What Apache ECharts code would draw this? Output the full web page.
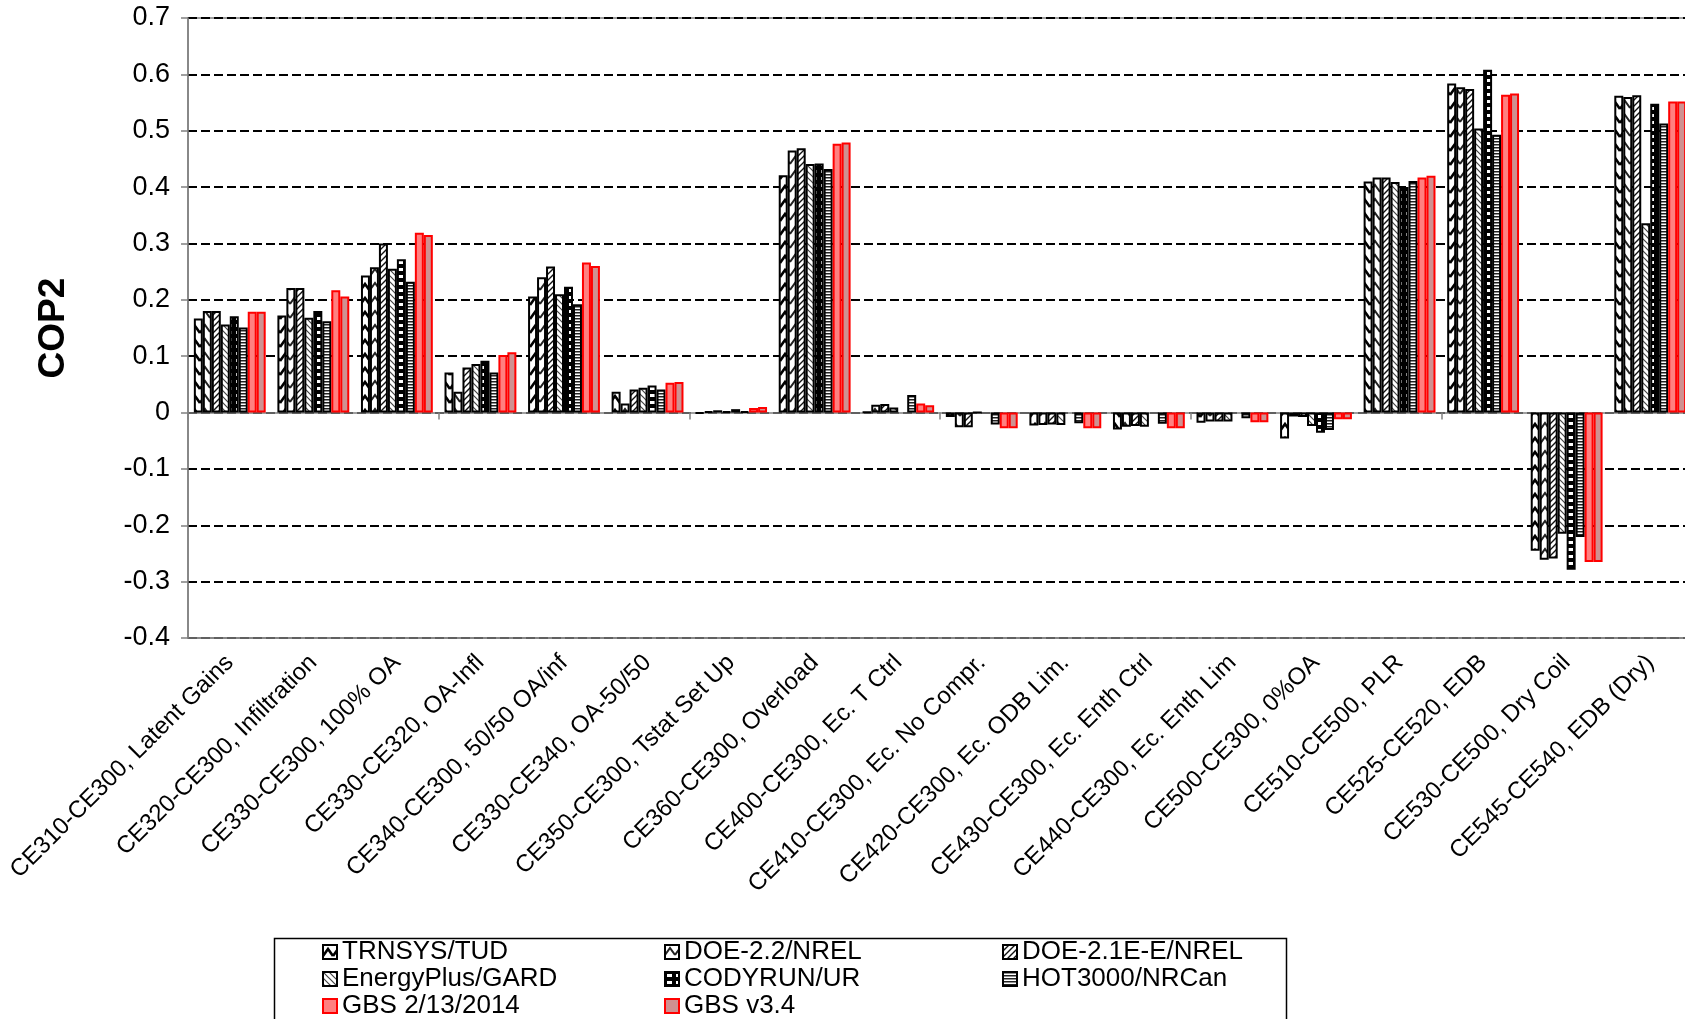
<!DOCTYPE html>
<html>
<head>
<meta charset="utf-8">
<script src="https://cdn.jsdelivr.net/npm/echarts@6/dist/echarts.min.js"></script>
<style>
  html, body { margin: 0; padding: 0; background: #fff; }
  #chart { width: 1685px; height: 1019px; }
</style>
</head>
<body>
<div id="chart"></div>
<script>
const categories = [
  "CE310-CE300, Latent Gains",
  "CE320-CE300, Infiltration",
  "CE330-CE300, 100% OA",
  "CE330-CE320, OA-Infl",
  "CE340-CE300, 50/50 OA/inf",
  "CE330-CE340, OA-50/50",
  "CE350-CE300, Tstat Set Up",
  "CE360-CE300, Overload",
  "CE400-CE300, Ec. T Ctrl",
  "CE410-CE300, Ec. No Compr.",
  "CE420-CE300, Ec. ODB Lim.",
  "CE430-CE300, Ec. Enth Ctrl",
  "CE440-CE300, Ec. Enth Lim",
  "CE500-CE300, 0%OA",
  "CE510-CE500, PLR",
  "CE525-CE520, EDB",
  "CE530-CE500, Dry Coil",
  "CE545-CE540, EDB (Dry)",
];

const seriesNames = [
  "TRNSYS/TUD",
  "DOE-2.2/NREL",
  "DOE-2.1E-E/NREL",
  "EnergyPlus/GARD",
  "CODYRUN/UR",
  "HOT3000/NRCan",
  "GBS 2/13/2014",
  "GBS v3.4",
];

const trnsys = [0.167, 0.172, 0.243, 0.071, 0.206, 0.037, -0.002, 0.421, 0.001, -0.008, -0.023, -0.030, -0.018, -0.046, 0.410, 0.584, -0.245, 0.562];
const doe22 = [0.180, 0.221, 0.258, 0.037, 0.240, 0.016, 0.002, 0.465, 0.014, -0.026, -0.022, -0.025, -0.016, -0.007, 0.417, 0.577, -0.261, 0.560];
const doe21e = [0.180, 0.221, 0.300, 0.080, 0.259, 0.041, 0.004, 0.469, 0.015, -0.026, -0.021, -0.024, -0.016, -0.008, 0.417, 0.574, -0.259, 0.563];
const energyPlus = [0.156, 0.168, 0.255, 0.086, 0.210, 0.044, 0.002, 0.441, 0.009, 0, -0.022, -0.025, -0.016, -0.024, 0.409, 0.504, -0.215, 0.336];
const codyrun = [0.171, 0.180, 0.272, 0.092, 0.223, 0.048, 0.006, 0.442, null, null, null, null, null, -0.036, 0.400, 0.608, -0.279, 0.548];
const hot3000 = [0.151, 0.162, 0.232, 0.071, 0.192, 0.041, 0.002, 0.432, 0.031, -0.021, -0.019, -0.020, -0.010, -0.031, 0.411, 0.493, -0.221, 0.513];
const gbs2014 = [0.179, 0.217, 0.319, 0.102, 0.266, 0.053, 0.008, 0.477, 0.016, -0.028, -0.028, -0.028, -0.017, -0.012, 0.417, 0.564, -0.265, 0.552];
const gbs34 = [0.179, 0.206, 0.315, 0.107, 0.260, 0.054, 0.010, 0.479, 0.013, -0.028, -0.028, -0.028, -0.017, -0.012, 0.420, 0.566, -0.265, 0.552];

const yTicks = { min: -0.4, max: 0.7, interval: 0.1 };

const FONT = "'Liberation Sans', Arial, sans-serif";

// small canvas tiles to imitate the excel hatch fills
function pattern(w, h, bg, draw) {
  const c = document.createElement("canvas");
  c.width = w;
  c.height = h;
  const ctx = c.getContext("2d");
  ctx.fillStyle = bg;
  ctx.fillRect(0, 0, w, h);
  draw(ctx);
  return { image: c, repeat: "repeat" };
}

const fills = [
  pattern(10, 14, "#fff", (ctx) => {
    ctx.strokeStyle = "#000";
    ctx.lineWidth = 2.6;
    ctx.beginPath();
    ctx.moveTo(0, 11);
    ctx.lineTo(5, 4);
    ctx.lineTo(10, 11);
    ctx.stroke();
  }),
  pattern(10, 14, "#fff", (ctx) => {
    ctx.strokeStyle = "#222";
    ctx.lineWidth = 2;
    ctx.beginPath();
    ctx.moveTo(0, 10);
    ctx.lineTo(5, 3);
    ctx.lineTo(10, 10);
    ctx.stroke();
  }),
  pattern(6, 6, "#fff", (ctx) => {
    ctx.strokeStyle = "#111";
    ctx.lineWidth = 1.4;
    ctx.beginPath();
    ctx.moveTo(0, 6);
    ctx.lineTo(6, 0);
    ctx.moveTo(-1, 1);
    ctx.lineTo(1, -1);
    ctx.moveTo(5, 7);
    ctx.lineTo(7, 5);
    ctx.stroke();
  }),
  pattern(6, 6, "#fff", (ctx) => {
    ctx.strokeStyle = "#444";
    ctx.lineWidth = 1.2;
    ctx.beginPath();
    ctx.moveTo(0, 0);
    ctx.lineTo(6, 6);
    ctx.moveTo(5, -1);
    ctx.lineTo(7, 1);
    ctx.moveTo(-1, 5);
    ctx.lineTo(1, 7);
    ctx.stroke();
  }),
  pattern(9, 7, "#000", (ctx) => {
    ctx.fillStyle = "#fff";
    ctx.fillRect(2, 2, 5, 3);
  }),
  pattern(4, 3, "#fff", (ctx) => {
    ctx.fillStyle = "#222";
    ctx.fillRect(0, 0, 4, 1.5);
  }),
  "#FF8080",
  "#CF9191",
];

const values = [trnsys, doe22, doe21e, energyPlus, codyrun, hot3000, gbs2014, gbs34];

const series = seriesNames.map((name, i) => ({
  name: name,
  type: "bar",
  xAxisIndex: 0,
  data: values[i],
  barGap: "0%",
  barCategoryGap: "14%",
  itemStyle: {
    color: fills[i],
    borderColor: i >= 6 ? "#FF0000" : "#000",
    borderWidth: 2,
  },
  emphasis: { disabled: true },
}));

// legend laid out as a 3-column grid, one small legend per entry
const legendCols = [322, 664, 1002];
const legendRows = [952, 979, 1006];
const legends = seriesNames.map((name, i) => ({
  left: legendCols[i % 3],
  top: legendRows[Math.floor(i / 3)] - 13,
  padding: 0,
  itemWidth: 14,
  itemHeight: 14,
  icon: "rect",
  selectedMode: false,
  data: [name],
  textStyle: { fontFamily: FONT, fontSize: 26, color: "#000", lineHeight: 26 },
}));

const chart = echarts.init(document.getElementById("chart"));

const option = {
  backgroundColor: "#fff",
  animation: false,
  textStyle: { fontFamily: FONT },
  grid: {
    left: 188,
    top: 18,
    width: 1504,
    height: 620,
    show: true,
    borderColor: "#808080",
    borderWidth: 1.5,
    outerBoundsMode: "none",
  },
  legend: legends,
  xAxis: [
    {
      type: "category",
      data: categories,
      position: "bottom",
      axisLine: { onZero: true, lineStyle: { color: "#808080", width: 1.5 } },
      axisTick: { show: true, length: 7, lineStyle: { color: "#808080", width: 1.5 } },
      axisLabel: { show: false },
      splitLine: { show: false },
    },
    {
      type: "category",
      data: categories,
      position: "bottom",
      axisLine: { onZero: false, show: true, lineStyle: { color: "#808080", width: 1.5 } },
      axisTick: { show: false },
      axisLabel: {
        interval: 0,
        rotate: 45,
        margin: 21,
        fontSize: 24,
        color: "#000",
        fontFamily: FONT,
      },
    },
  ],
  yAxis: {
    type: "value",
    min: yTicks.min,
    max: yTicks.max,
    interval: yTicks.interval,
    name: "COP2",
    nameLocation: "middle",
    nameGap: 116,
    nameTextStyle: { fontSize: 37, fontWeight: "bold", color: "#000", fontFamily: FONT },
    axisLine: { show: true, lineStyle: { color: "#808080", width: 1.5 } },
    axisTick: { show: true, length: 7, lineStyle: { color: "#808080", width: 1.5 } },
    axisLabel: {
      fontSize: 27,
      color: "#000",
      margin: 18,
      fontFamily: FONT,
      formatter: (v) => String(+v.toFixed(1)),
    },
    splitLine: { show: true, lineStyle: { color: "#000", width: 2, type: [9, 4] } },
  },
  graphic: [
    {
      type: "rect",
      left: 272,
      top: 936,
      shape: { width: 1012, height: 100 },
      style: { fill: "none", stroke: "#000", lineWidth: 1.5 },
      z: 0,
    },
  ],
  series: series,
};

chart.setOption(option);
</script>
</body>
</html>
